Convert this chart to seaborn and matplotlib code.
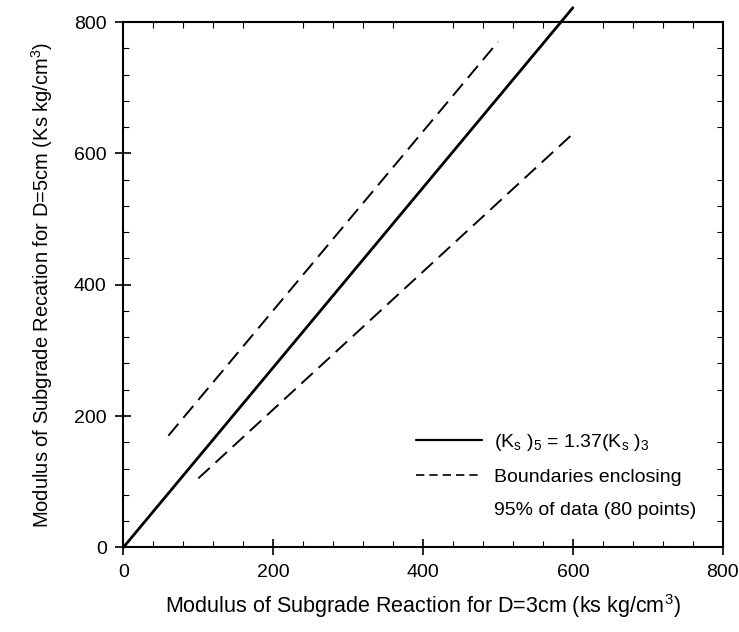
#Modulus of subgrade reaction, D=5cm vs D=3cm

import seaborn as sns
import matplotlib.pyplot as plt
from matplotlib.lines import Line2D
from matplotlib.ticker import MultipleLocator

#Data
fit_x = [0, 600]
fit_y = [0, 822]          # (Ks)5 = 1.37 (Ks)3

upper_x = [60, 500]
upper_y = [170, 770]

lower_x = [100, 600]
lower_y = [105, 630]

ticks = [0, 200, 400, 600, 800]

sns.set_style("ticks")
plt.rcParams['font.family'] = ['Liberation Sans', 'DejaVu Sans']
plt.rcParams['mathtext.fontset'] = 'custom'
plt.rcParams['mathtext.rm'] = 'Liberation Sans'
plt.rcParams['mathtext.it'] = 'Liberation Sans'
for k in ['text.color', 'axes.labelcolor', 'xtick.color', 'ytick.color', 'axes.edgecolor']:
    plt.rcParams[k] = 'black'

fig = plt.figure(figsize=(7.39, 6.32), dpi=100)
ax = fig.add_axes([0.167, 0.134, 0.811, 0.831])

sns.lineplot(x=fit_x, y=fit_y, color="black", linewidth=2, ax=ax)
sns.lineplot(x=upper_x, y=upper_y, color="black", linewidth=1.4, ax=ax)
sns.lineplot(x=lower_x, y=lower_y, color="black", linewidth=1.4, ax=ax)

#dashed style for the boundary lines, solid line runs past the frame
lines = ax.get_lines()
lines[0].set_clip_on(False)
for ln in lines[1:]:
    ln.set_linestyle((0, (8, 4)))

ax.set_xlim(0, 800)
ax.set_ylim(0, 800)
ax.set_xticks(ticks)
ax.set_yticks(ticks)
ax.xaxis.set_minor_locator(MultipleLocator(40))
ax.yaxis.set_minor_locator(MultipleLocator(40))
ax.tick_params(which="major", direction="inout", length=12, width=1.2, labelsize=14, pad=6)
ax.tick_params(which="minor", direction="in", length=4, width=0.8, top=True, right=True)

for s in ax.spines.values():
    s.set_linewidth(1.5)
    s.set_visible(True)

ax.set_xlabel(r"Modulus of Subgrade Reaction for D=3cm (ks kg/cm$^\mathregular{3}$)", fontsize=15.5, labelpad=8)
ax.set_ylabel(r"Modulus of Subgrade Recation for D=5cm (Ks kg/cm$^\mathregular{3}$)", fontsize=14.5, labelpad=14)

#legend: solid fit line, dashed boundaries, second text line with no handle
handles = [Line2D([], [], color="black", linewidth=1.6),
           Line2D([], [], color="black", linewidth=1.2, linestyle=(0, (5, 3))),
           Line2D([], [], linestyle="none")]
labels = [r"(K$_\mathregular{s}$ )$_\mathregular{5}$ = 1.37(K$_\mathregular{s}$ )$_\mathregular{3}$",
          "Boundaries enclosing",
          "95% of data (80 points)"]
ax.legend(handles, labels, loc="lower right", frameon=False, fontsize=14, handlelength=3.4,
          handletextpad=0.6, labelspacing=0.8, bbox_to_anchor=(0.985, 0.02))

fig.savefig("out.png", dpi=100)
